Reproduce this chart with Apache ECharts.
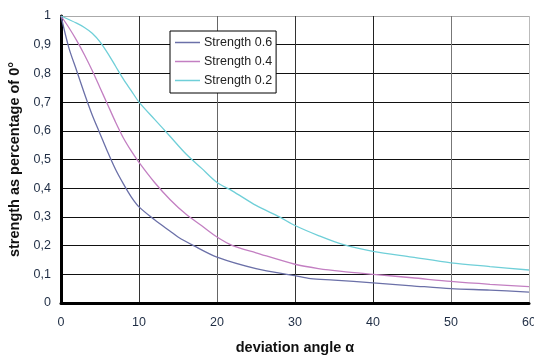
<!DOCTYPE html>
<html>
<head>
<meta charset="utf-8">
<script src="https://cdn.jsdelivr.net/npm/echarts@6/dist/echarts.min.js"></script>
<style>
  html, body { margin: 0; padding: 0; background: #fff; }
  #chart { width: 534px; height: 358px; }
</style>
</head>
<body>
<div id="chart"></div>
<script>
// angle (deg) -> strength as fraction of 0°
const s06 = [[0,1],[1,0.89],[2,0.81],[3,0.73],[4,0.655],[5,0.59],[6,0.525],[7,0.465],[8,0.415],[9,0.37],[10,0.335],[12,0.29],[14,0.25],[15,0.23],[17,0.2],[20,0.16],[25,0.12],[30,0.095],[32,0.085],[35,0.08],[40,0.07],[45,0.06],[50,0.05],[55,0.045],[60,0.038]];
const s04 = [[0,1],[1,0.96],[2,0.915],[3,0.865],[4,0.81],[5,0.75],[6,0.69],[7,0.63],[8,0.575],[9,0.53],[10,0.49],[12,0.42],[14,0.36],[16,0.31],[18,0.27],[20,0.23],[22,0.2],[25,0.175],[30,0.135],[33,0.12],[36,0.11],[40,0.1],[45,0.088],[50,0.075],[55,0.065],[60,0.057]];
const s02 = [[0,1],[2,0.975],[3,0.96],[4,0.94],[5,0.91],[6,0.87],[7,0.825],[8,0.78],[9,0.74],[10,0.7],[12,0.64],[14,0.58],[16,0.52],[18,0.47],[20,0.42],[22,0.39],[25,0.34],[28,0.3],[30,0.27],[33,0.235],[36,0.205],[40,0.18],[45,0.16],[50,0.14],[55,0.127],[60,0.115]];
const seriesNames = ['Strength 0.6', 'Strength 0.4', 'Strength 0.2'];

const chart = echarts.init(document.getElementById('chart'));
const fam = 'Liberation Sans, Arial, sans-serif';
const labelFont = { color: '#1f2d44', fontSize: 12.5, fontFamily: fam };
const nameFont = { color: '#111', fontSize: 14.5, fontWeight: 'bold', fontFamily: fam };

chart.setOption({
  animation: false,
  grid: { left: 61, right: 5, top: 16, bottom: 55, outerBoundsMode: 'none' },
  legend: {
    left: 170, top: 31, orient: 'vertical',
    data: seriesNames,
    icon: 'rect',
    backgroundColor: '#fff', borderColor: '#000', borderWidth: 1,
    padding: [5, 4, 6, 5], itemGap: 6, itemWidth: 25, itemHeight: 1.5,
    textStyle: { fontSize: 12.5, color: '#222', fontFamily: fam, padding: [0, 0, 0, -1] }
  },
  xAxis: {
    type: 'value', min: 0, max: 60, interval: 10,
    name: 'deviation angle α', nameLocation: 'middle', nameGap: 37, nameTextStyle: nameFont,
    axisLine: { show: true, onZero: false, lineStyle: { color: '#000', width: 3 } },
    axisTick: { show: false },
    axisLabel: Object.assign({ margin: 13 }, labelFont),
    splitLine: { show: true, lineStyle: { color: ['#000', '#333', '#666', '#333', '#222', '#777', '#bbb'], width: 1 } }
  },
  yAxis: {
    type: 'value', min: 0, max: 1, interval: 0.1,
    name: 'strength as percentage of 0°', nameLocation: 'middle', nameGap: 36, nameTextStyle: nameFont,
    axisLine: { show: true, lineStyle: { color: '#000', width: 3 } },
    axisTick: { show: false },
    axisLabel: Object.assign({ margin: 10, formatter: v => String(+v.toFixed(1)).replace('.', ',') }, labelFont),
    splitLine: { show: true, lineStyle: { color: ['#000', '#111', '#111', '#111', '#111', '#111', '#111', '#111', '#111', '#111', '#aaa'], width: 1 } }
  },
  series: [
    { name: seriesNames[0], type: 'line', data: s06, smooth: 0.3, symbol: 'none', lineStyle: { color: '#6b70a8', width: 1.3 }, itemStyle: { color: '#6b70a8' } },
    { name: seriesNames[1], type: 'line', data: s04, smooth: 0.3, symbol: 'none', lineStyle: { color: '#c37fc2', width: 1.3 }, itemStyle: { color: '#c37fc2' } },
    { name: seriesNames[2], type: 'line', data: s02, smooth: 0.3, symbol: 'none', lineStyle: { color: '#6fcfd8', width: 1.3 }, itemStyle: { color: '#6fcfd8' } }
  ]
});
</script>
</body>
</html>
